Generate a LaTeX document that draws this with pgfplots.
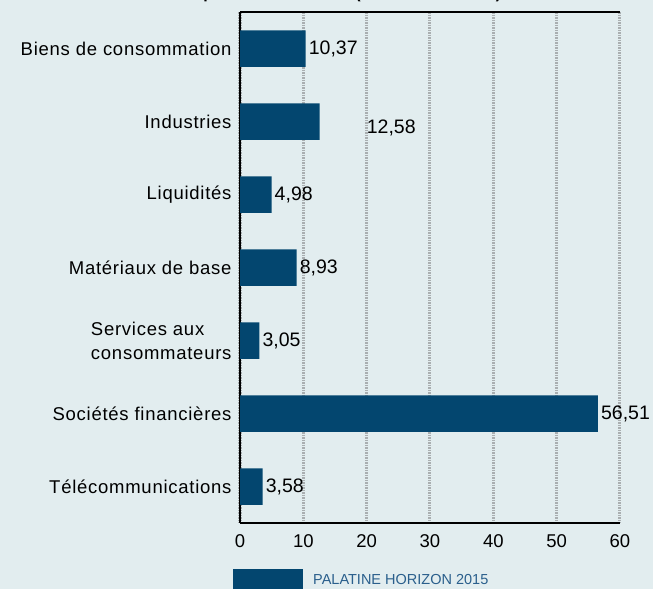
\documentclass[border=0pt]{standalone}
\usepackage{pgfplots}
\pgfplotsset{compat=1.18}
\usepackage{pgfplotstable}
\usepackage{fontspec}
\setmainfont{Liberation Sans}
\newfontfamily\catfont[LetterSpace=4]{Liberation Sans}
\definecolor{bg}{HTML}{E2EDEF}
\definecolor{barblue}{HTML}{03466F}
\definecolor{legtxt}{HTML}{2A5F8C}
\definecolor{gridgray}{HTML}{A9AEB0}
\pgfplotstableread{
x y s v
10.37 0 0 0
12.58 1 44 -6
4.98 2 0 0
8.93 3 0 0
3.05 4 0 0
56.51 5 0 0
3.58 6 0 0
}\datatab
\begin{document}
\begin{tikzpicture}
\useasboundingbox (0bp,0bp) rectangle (653bp,589bp);
\fill[bg] (0bp,0bp) rectangle (653bp,589bp);
\node[anchor=base, font=\bfseries\fontsize{16bp}{19bp}\selectfont] at (342bp,590bp) {Répartition sectorielle (en \% de l'actif net)};
\begin{axis}[
  at={(240bp,66bp)}, anchor=south west,
  width=380bp, height=511bp, scale only axis,
  xbar, bar width=0.5,
  xmin=0, xmax=60, ymin=-0.5, ymax=6.5, y dir=reverse,
  xtick={0,10,...,60},
  ytick={0,...,6},
  yticklabels={Biens de consommation,Industries,Liquidités,Matériaux de base,{Services aux\\consommateurs},Sociétés financières,Télécommunications},
  yticklabel style={align=left, font=\catfont\fontsize{18.5bp}{24bp}\selectfont, xshift=-5bp},
  xticklabel style={font=\fontsize{18.5bp}{20bp}\selectfont, yshift=-8bp},
  /pgf/number format/assume math mode=true,
  major tick length=0pt,
  axis line style={black, line width=1.5bp},
  axis x line*=bottom, axis y line*=left,
  xmajorgrids, grid style={gridgray, line width=3bp, dash pattern=on 1.5bp off 1bp},
  nodes near coords,
  point meta=x,
  visualization depends on={\thisrow{s} \as \sh},
  visualization depends on={\thisrow{v} \as \vs},
  every node near coord/.append style={anchor=west, font=\fontsize{19.5bp}{22bp}\selectfont, black, xshift=\sh bp, yshift=\vs bp, inner sep=3bp,
    /pgf/number format/.cd, fixed, fixed zerofill, precision=2, use comma, assume math mode=true},
]
\addplot[fill=barblue, draw=none] table[x=x,y=y] {\datatab};
\end{axis}
\draw[black, line width=1.5bp] (240bp,577bp) -- (620bp,577bp);
\fill[barblue] (233bp,0bp) rectangle (303bp,20bp);
\node[anchor=base west, text=legtxt, font=\fontsize{14.5bp}{16bp}\selectfont, inner sep=0] at (313bp,5bp) {PALATINE HORIZON 2015};
\end{tikzpicture}
\end{document}
